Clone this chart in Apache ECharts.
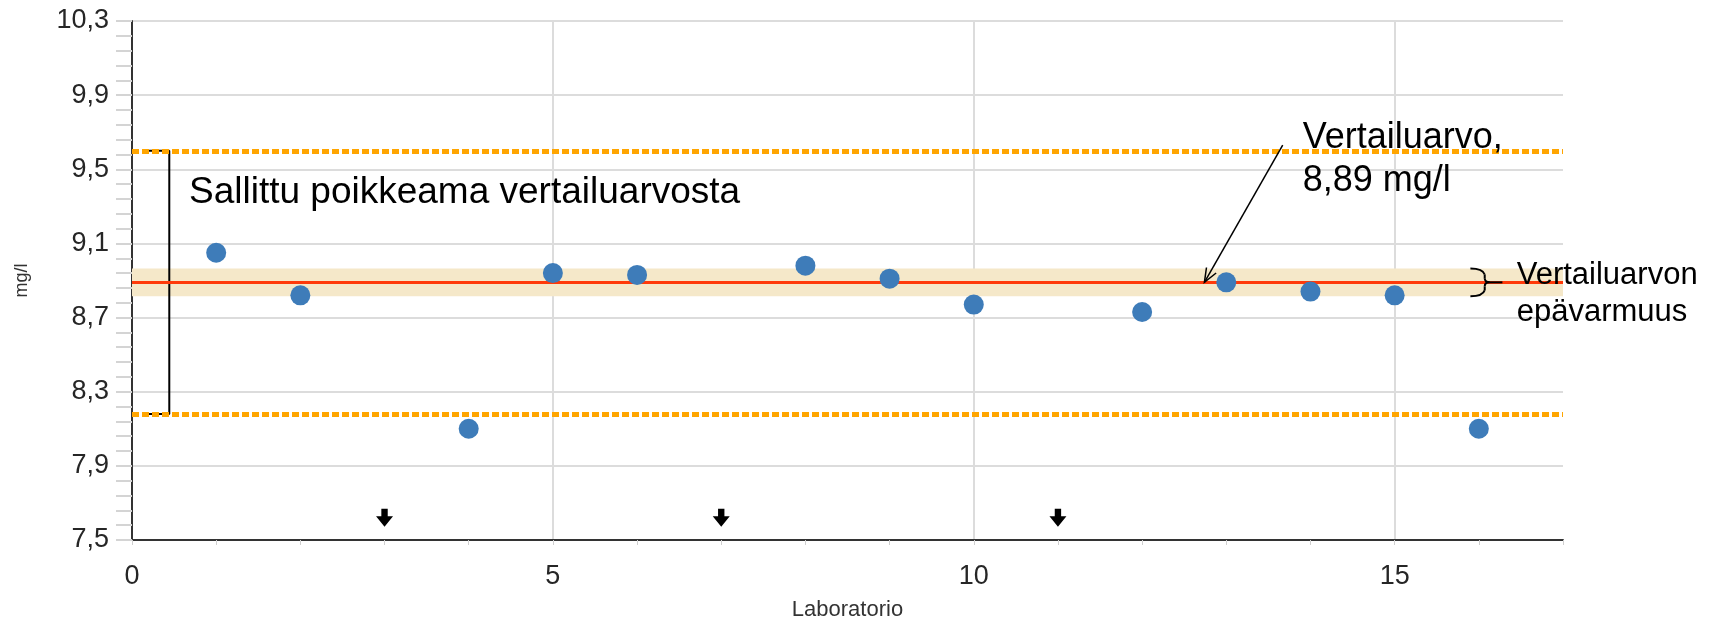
<!DOCTYPE html>
<html>
<head>
<meta charset="utf-8">
<script src="https://cdn.jsdelivr.net/npm/echarts@6/dist/echarts.min.js"></script>
<style>
  html, body { margin: 0; padding: 0; background: #fff; }
  #chart { width: 1724px; height: 627px; }
</style>
</head>
<body>
<div id="chart"></div>
<script>
// Laboratory results (mg/l)
const labs = [1, 2, 4, 5, 6, 8, 9, 10, 12, 13, 14, 15, 16];
const results = [9.05, 8.82, 8.10, 8.94, 8.93, 8.98, 8.91, 8.77, 8.73, 8.89, 8.84, 8.82, 8.10];

// Laboratories whose result falls below the axis range
const belowRangeLabs = [3, 7, 11];
const belowRangeLevel = 7.62;

// Reference value, its uncertainty and the allowed deviation limits
const refValue = 8.89;
const refUncertainty = 0.075;
const limitLow = 8.18;
const limitHigh = 9.60;

// Axis ranges
const xMin = 0, xMax = 17, xStep = 5;
const yMin = 7.5, yMax = 10.3, yStep = 0.4;

const FONT = "'Liberation Sans', Arial, sans-serif";

const chart = echarts.init(document.getElementById('chart'), null, { renderer: 'canvas' });

const option = {
  animation: false,
  backgroundColor: '#ffffff',
  grid: { left: 132, top: 21, width: 1431, height: 519, outerBoundsMode: 'none', containLabel: false },
  xAxis: {
    type: 'value',
    min: xMin, max: xMax, interval: xStep,
    name: 'Laboratorio',
    nameLocation: 'middle',
    nameGap: 59,
    nameTextStyle: { fontFamily: FONT, fontSize: 22, color: '#333' },
    axisLine: { show: true, onZero: false, lineStyle: { color: '#333', width: 2 } },
    axisTick: { show: true, length: 5, lineStyle: { color: '#cfcfcf', width: 1 } },
    minorTick: { show: true, splitNumber: 5, length: 5, lineStyle: { color: '#cfcfcf', width: 1 } },
    splitLine: { show: true, showMaxLine: false, lineStyle: { color: '#dcdcdc', width: 2 } },
    axisLabel: { fontFamily: FONT, fontSize: 27, color: '#262626', margin: 23, showMaxLabel: false }
  },
  yAxis: {
    type: 'value',
    min: yMin, max: yMax, interval: yStep,
    name: 'mg/l',
    nameLocation: 'middle',
    nameRotate: 90,
    nameGap: 101,
    nameTextStyle: { fontFamily: FONT, fontSize: 18, color: '#333' },
    axisLine: { show: true, onZero: false, lineStyle: { color: '#333', width: 2 } },
    axisTick: { show: true, length: 16, lineStyle: { color: '#d4d4d4', width: 2 } },
    minorTick: { show: true, splitNumber: 5, length: 16, lineStyle: { color: '#d4d4d4', width: 2 } },
    splitLine: { show: true, lineStyle: { color: '#dcdcdc', width: 2 } },
    axisLabel: {
      fontFamily: FONT, fontSize: 27, color: '#262626', margin: 23,
      formatter: v => v.toFixed(1).replace('.', ',')
    }
  },
  series: [
    {
      // reference band, reference line and limit lines
      name: 'Vertailuarvo',
      type: 'line',
      data: [],
      silent: true,
      markArea: {
        silent: true,
        itemStyle: { color: '#f5e8c9' },
        data: [[{ yAxis: refValue - refUncertainty }, { yAxis: refValue + refUncertainty }]]
      },
      markLine: {
        silent: true,
        symbol: 'none',
        label: { show: false },
        data: [
          { yAxis: limitHigh, lineStyle: { color: '#ffa500', width: 5, type: [7, 3] } },
          { yAxis: limitLow, lineStyle: { color: '#ffa500', width: 5, type: [7, 3] } },
          { yAxis: refValue, lineStyle: { color: '#ff3a0a', width: 3, type: 'solid' } }
        ]
      },
      z: 1
    },
    {
      // bracket showing the allowed deviation
      name: 'Sallittu poikkeama',
      type: 'line',
      data: [[0.134, limitHigh], [0.443, limitHigh], [0.443, limitLow], [0.134, limitLow]],
      symbol: 'none',
      lineStyle: { color: '#000', width: 2 },
      silent: true,
      z: 4
    },
    {
      name: 'Sallittu poikkeama (keskikohta)',
      type: 'line',
      data: [[0.443, refValue], [0.76, refValue]],
      symbol: 'none',
      lineStyle: { color: '#000', width: 2 },
      silent: true,
      z: 4
    },
    {
      name: 'Tulokset',
      type: 'scatter',
      data: labs.map((l, i) => [l, results[i]]),
      symbol: 'circle',
      symbolSize: 20,
      itemStyle: { color: '#3e7cb9', opacity: 1 },
      z: 5
    },
    {
      name: 'Alle asteikon',
      type: 'scatter',
      data: belowRangeLabs.map(l => [l, belowRangeLevel]),
      symbol: 'path://M5,0 L11,0 L11,7 L16,7 L8,17 L0,7 L5,7 Z',
      symbolSize: [17, 18],
      itemStyle: { color: '#000', opacity: 1 },
      z: 5
    }
  ]
};

chart.setOption(option);

// Annotations placed in data coordinates
const px = (x, y) => chart.convertToPixel({ xAxisIndex: 0, yAxisIndex: 0 }, [x, y]);

const graphics = [];

// "Sallittu poikkeama vertailuarvosta"
const pS = px(0.677, 9.375);
graphics.push({
  type: 'text', z: 10,
  style: { text: 'Sallittu poikkeama vertailuarvosta', x: pS[0], y: pS[1], font: '37px ' + FONT, fill: '#000', textAlign: 'left', textVerticalAlign: 'middle' }
});

// Reference value label with pointer arrow
const pV = px(13.907, 9.55);
graphics.push({
  type: 'text', z: 10,
  style: { text: 'Vertailuarvo,\n8,89 mg/l', x: pV[0], y: pV[1], font: '36px ' + FONT, lineHeight: 43, fill: '#000', textAlign: 'left', textVerticalAlign: 'middle' }
});
const a0 = px(13.67, 9.63);
const a1 = px(12.74, refValue);
graphics.push({ type: 'line', z: 10, shape: { x1: a0[0], y1: a0[1], x2: a1[0], y2: a1[1] }, style: { stroke: '#000', lineWidth: 1.5 } });
{
  const ang = Math.atan2(a0[1] - a1[1], a0[0] - a1[0]);
  const len = 15, spread = 0.38;
  const h1 = [a1[0] + len * Math.cos(ang + spread), a1[1] + len * Math.sin(ang + spread)];
  const h2 = [a1[0] + len * Math.cos(ang - spread), a1[1] + len * Math.sin(ang - spread)];
  graphics.push({ type: 'polyline', z: 10, shape: { points: [h1, a1, h2] }, style: { stroke: '#000', lineWidth: 1.5, fill: null } });
}

// Brace marking the uncertainty band
{
  const top = px(15.9, refValue + refUncertainty);
  const bot = px(15.9, refValue - refUncertainty);
  const mid = px(16.07, refValue);
  const tip = px(16.28, refValue);
  const x0 = top[0], xm = mid[0], xt = tip[0];
  const yt = top[1], yb = bot[1], yc = mid[1];
  const st = { stroke: '#000', lineWidth: 2, fill: null };
  graphics.push({ type: 'bezierCurve', z: 10, shape: { x1: x0, y1: yt, x2: xm, y2: yt + 6, cpx1: xm - 2, cpy1: yt } , style: st });
  graphics.push({ type: 'line', z: 10, shape: { x1: xm, y1: yt + 6, x2: xm, y2: yc - 4 }, style: st });
  graphics.push({ type: 'bezierCurve', z: 10, shape: { x1: xm, y1: yc - 4, x2: xm + 5, y2: yc, cpx1: xm, cpy1: yc }, style: st });
  graphics.push({ type: 'line', z: 10, shape: { x1: xm + 5, y1: yc, x2: xt, y2: yc }, style: st });
  graphics.push({ type: 'bezierCurve', z: 10, shape: { x1: xm + 5, y1: yc, x2: xm, y2: yc + 4, cpx1: xm, cpy1: yc }, style: st });
  graphics.push({ type: 'line', z: 10, shape: { x1: xm, y1: yc + 4, x2: xm, y2: yb - 6 }, style: st });
  graphics.push({ type: 'bezierCurve', z: 10, shape: { x1: xm, y1: yb - 6, x2: x0, y2: yb, cpx1: xm - 2, cpy1: yb }, style: st });
}
const pU = px(16.45, 8.83);
graphics.push({
  type: 'text', z: 10,
  style: { text: 'Vertailuarvon\nepävarmuus', x: pU[0], y: pU[1], font: '31px ' + FONT, lineHeight: 37, fill: '#000', textAlign: 'left', textVerticalAlign: 'middle' }
});

chart.setOption({ graphic: graphics });
</script>
</body>
</html>
